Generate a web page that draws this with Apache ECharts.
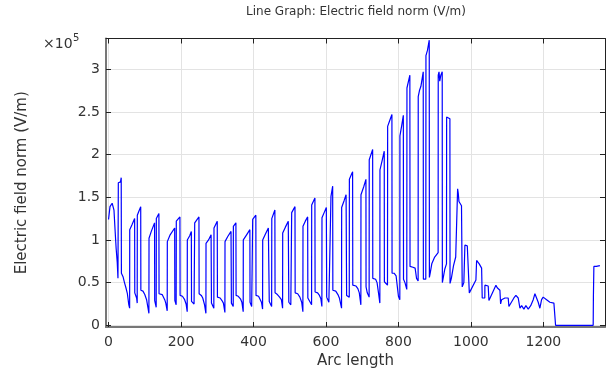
<!DOCTYPE html>
<html>
<head>
<meta charset="utf-8">
<script src="https://cdn.jsdelivr.net/npm/echarts@6/dist/echarts.min.js"></script>
<style>
  html, body { margin: 0; padding: 0; background: #fff; }
  #main { width: 613px; height: 374px; }
</style>
</head>
<body>
<div id="main"></div>
<script>
// Arc length values (x)
const arcLength = [
  0, 4, 10, 15, 18, 21, 24, 26, 27, 33, 35, 35.5, 40, 44, 48, 52, 56, 58.2,
  58.5, 65, 72, 72.4, 75, 77.5, 79.1, 79.4, 84, 88.8, 89.2, 95, 100, 105, 109, 111.4,
  111.7, 118, 127, 127.4, 131.5, 131.9, 139, 139.4, 148, 155, 158, 161.9,
  162.2, 170, 182.5, 183, 186.6, 187, 197, 197.5, 204, 210, 214, 217.1,
  217.4, 224, 228.5, 229, 236, 237.5, 237.8, 249.5, 250, 256, 260, 265, 268.7,
  269, 276, 283, 284, 290.6, 291, 300, 300.5, 308, 313, 317, 321.1,
  321.4, 329, 338, 339, 344.1, 344.5, 351.5, 352, 358, 364, 368, 371.6,
  371.9, 381, 390, 390.5, 395, 397.5, 397.8, 406.5, 407, 414, 418, 422, 425.1,
  425.4, 433, 441, 443.5, 450.1, 450.5, 459, 459.5, 466, 472, 477, 480.3,
  480.6, 488, 496, 497.5, 503, 505.1, 505.4, 514.5, 515, 522, 528, 533, 536.3,
  536.6, 543, 549.5, 550, 555, 560.3, 560.6, 569.5, 570, 577, 582, 586, 588.7,
  589, 595, 601, 602, 608, 613.5, 613.8, 618.5, 619, 627, 633, 637, 643,
  643.3, 650, 655.5, 657, 662, 664.3, 664.6, 673.5, 674, 683, 688, 692, 696.3,
  696.6, 704, 710.3, 710.6, 714, 719.1, 719.4, 728.8, 729.2, 737, 741, 745, 748.7,
  749, 755, 760.8, 761.2, 766, 769.8, 770.2, 776, 782, 782.4, 788, 793.5, 797, 800, 803.8,
  804.1, 809, 813.5, 814, 818, 823, 823.5, 831.5, 832, 840, 846, 850, 854.3,
  854.6, 858, 862, 868.4, 868.8, 875.5, 875.9, 880, 885, 885.4, 888, 892, 900, 909.5,
  909.8, 912, 914, 917, 920.8, 921.2, 924, 928, 932.6, 933, 938, 942, 942.4, 946, 952, 958, 963,
  963.3, 965, 967, 974, 976, 980.5, 983.4, 990, 995.3, 995.6,
  1013.8, 1015.7, 1022.9, 1029.5, 1031.2, 1038.3, 1038.6, 1047.7, 1049.7, 1052.4,
  1069, 1072.6, 1080, 1081.9, 1084.7, 1093.8, 1102.9, 1104.8, 1107.6, 1118.6,
  1124.1, 1130.5, 1135.2, 1139.9, 1146.2, 1151.7, 1158.1, 1165, 1171.9, 1176.6,
  1180, 1185.7, 1190.3, 1195, 1199.4, 1208.8, 1218, 1229, 1232, 1233.6,
  1337.4, 1338, 1339.3, 1346, 1355.9
];
// Electric field norm, in units of 1e5 V/m
const fieldNorm = [
  1.24, 1.39, 1.43, 1.35, 1.12, 0.9, 0.74, 0.55, 1.67, 1.68, 1.73, 0.61, 0.57, 0.5, 0.44, 0.37, 0.24, 0.2,
  1.12, 1.18, 1.25, 0.38, 0.37, 0.32, 0.26, 1.29, 1.34, 1.39, 0.41, 0.4, 0.36, 0.3, 0.2, 0.14,
  1.02, 1.1, 1.2, 0.29, 0.21, 1.25, 1.31, 0.37, 0.36, 0.3, 0.26, 0.17,
  0.98, 1.06, 1.14, 0.29, 0.24, 1.22, 1.27, 0.35, 0.34, 0.3, 0.25, 0.16,
  1.0, 1.05, 1.1, 0.28, 0.25, 0.24, 1.2, 1.27, 0.37, 0.35, 0.32, 0.24, 0.14,
  0.96, 1.0, 1.06, 0.26, 0.2, 1.14, 1.22, 0.33, 0.32, 0.29, 0.26, 0.15,
  0.98, 1.04, 1.1, 0.26, 0.22, 1.16, 1.2, 0.35, 0.34, 0.31, 0.27, 0.16,
  1.0, 1.06, 1.12, 0.27, 0.22, 0.21, 1.24, 1.29, 0.35, 0.34, 0.32, 0.27, 0.19,
  1.0, 1.07, 1.14, 0.28, 0.22, 1.25, 1.35, 0.38, 0.36, 0.33, 0.3, 0.2,
  1.08, 1.15, 1.22, 0.27, 0.24, 0.23, 1.32, 1.39, 0.38, 0.37, 0.33, 0.27, 0.16,
  1.16, 1.22, 1.27, 0.32, 0.3, 0.24, 1.41, 1.49, 0.39, 0.38, 0.35, 0.31, 0.22,
  1.26, 1.32, 1.38, 0.33, 0.27, 0.25, 1.51, 1.63, 0.41, 0.4, 0.36, 0.32, 0.2,
  1.38, 1.46, 1.53, 0.35, 0.34, 0.33, 1.71, 1.8, 0.47, 0.46, 0.43, 0.38, 0.24,
  1.53, 1.62, 1.71, 0.45, 0.38, 0.33, 1.94, 2.06, 0.55, 0.54, 0.5, 0.38, 0.26,
  1.82, 1.93, 2.04, 0.51, 0.5, 0.47, 2.33, 2.4, 2.47, 0.61, 0.61, 0.58, 0.45, 0.34, 0.3,
  2.22, 2.34, 2.46, 0.54, 0.5, 0.42, 2.78, 2.93, 0.69, 0.68, 0.67, 0.55, 0.52,
  2.68, 2.75, 2.8, 2.97, 0.54, 0.54, 3.16, 3.22, 3.34, 0.56, 0.62, 0.72, 0.8, 0.85,
  2.93, 2.97, 2.86, 2.93, 2.97, 0.5, 0.52, 0.66, 0.72, 2.44, 2.44, 2.42, 0.49, 0.55, 0.7, 0.8, 0.82,
  1.6, 1.55, 1.45, 1.4, 0.45, 0.5, 0.94, 0.93, 0.92, 0.38,
  0.53, 0.76, 0.72, 0.67, 0.32, 0.32, 0.47, 0.46, 0.29, 0.27,
  0.47, 0.44, 0.41, 0.25, 0.3, 0.32, 0.32, 0.22, 0.24, 0.32,
  0.35, 0.32, 0.2, 0.23, 0.19, 0.23, 0.19, 0.23, 0.3, 0.37,
  0.36, 0.27, 0.2, 0.3, 0.33, 0.3, 0.27, 0.26, 0.26, 0,
  0, 0.33, 0.69, 0.69, 0.7
];
const xTickValues = [0, 200, 400, 600, 800, 1000, 1200];
const yTickValues = [0, 0.5, 1, 1.5, 2, 2.5, 3];
const yTickLabels = ['0', '0.5', '1', '1.5', '2', '2.5', '3'];

const FONT = 'DejaVu Sans';
const TEXT = '#333';
const xMin = -7, xMax = 1370, yMin = -0.02, yMax = 3.36;

const chart = echarts.init(document.getElementById('main'));
const frameAxis = (extra) => Object.assign({
  type: 'value',
  axisLine: { show: true, onZero: false, lineStyle: { color: '#222', width: 1 } },
  axisTick: { show: true, inside: true, length: 5, lineStyle: { color: '#222', width: 1 } },
  axisLabel: { show: false },
  splitLine: { show: false }
}, extra);

chart.setOption({
  animation: false,
  backgroundColor: '#fff',
  grid: { left: 106, right: 8, top: 38.5, bottom: 47, containLabel: false },
  graphic: [
    { type: 'text', x: 356, y: 6, style: { text: 'Line Graph: Electric field norm (V/m)', font: '12px "DejaVu Sans"', fill: TEXT, textAlign: 'center', textVerticalAlign: 'top' } },
    { type: 'text', x: 43, y: 37, style: { text: '×10', font: '14px "DejaVu Sans"', fill: TEXT, textVerticalAlign: 'top' } },
    { type: 'text', x: 73, y: 33, style: { text: '5', font: '10px "DejaVu Sans"', fill: TEXT, textVerticalAlign: 'top' } }
  ],
  xAxis: [
    {
      type: 'value', position: 'bottom', min: xMin, max: xMax,
      name: 'Arc length', nameLocation: 'middle', nameGap: 26,
      nameTextStyle: { fontFamily: FONT, fontSize: 15, color: TEXT },
      axisLine: { show: true, onZero: false, lineStyle: { color: '#777', width: 2 } },
      axisTick: { show: true, inside: true, length: 5, customValues: xTickValues, lineStyle: { color: '#222' } },
      axisLabel: { customValues: xTickValues, margin: 8, fontFamily: FONT, fontSize: 14, color: TEXT,
        formatter: (v) => String(v) },
      splitLine: { show: true, lineStyle: { color: '#e3e3e3', width: 1 } }
    },
    frameAxis({ position: 'top', min: xMin, max: xMax,
      axisTick: { show: true, inside: true, length: 5, customValues: xTickValues, lineStyle: { color: '#222' } } })
  ],
  yAxis: [
    {
      type: 'value', position: 'left', min: yMin, max: yMax,
      name: 'Electric field norm (V/m)', nameLocation: 'middle', nameGap: 76, nameRotate: 90,
      nameTextStyle: { fontFamily: FONT, fontSize: 15, color: TEXT },
      axisLine: { show: true, onZero: false, lineStyle: { color: '#777', width: 2 } },
      axisTick: { show: true, inside: true, length: 5, customValues: yTickValues, lineStyle: { color: '#222' } },
      axisLabel: { customValues: yTickValues, margin: 6, fontFamily: FONT, fontSize: 14, color: TEXT,
        formatter: (v) => yTickLabels[yTickValues.indexOf(v)] ?? String(v) },
      splitLine: { show: true, lineStyle: { color: '#e3e3e3', width: 1 } }
    },
    frameAxis({ position: 'right', min: yMin, max: yMax,
      axisTick: { show: true, inside: true, length: 5, customValues: yTickValues, lineStyle: { color: '#222' } } })
  ],
  series: [{
    type: 'line',
    xAxisIndex: 0, yAxisIndex: 0,
    data: arcLength.map((x, i) => [x, fieldNorm[i]]),
    showSymbol: false,
    symbol: 'none',
    lineStyle: { color: '#0000ff', width: 1.2 },
    emphasis: { disabled: true }
  }]
});
</script>
</body>
</html>
